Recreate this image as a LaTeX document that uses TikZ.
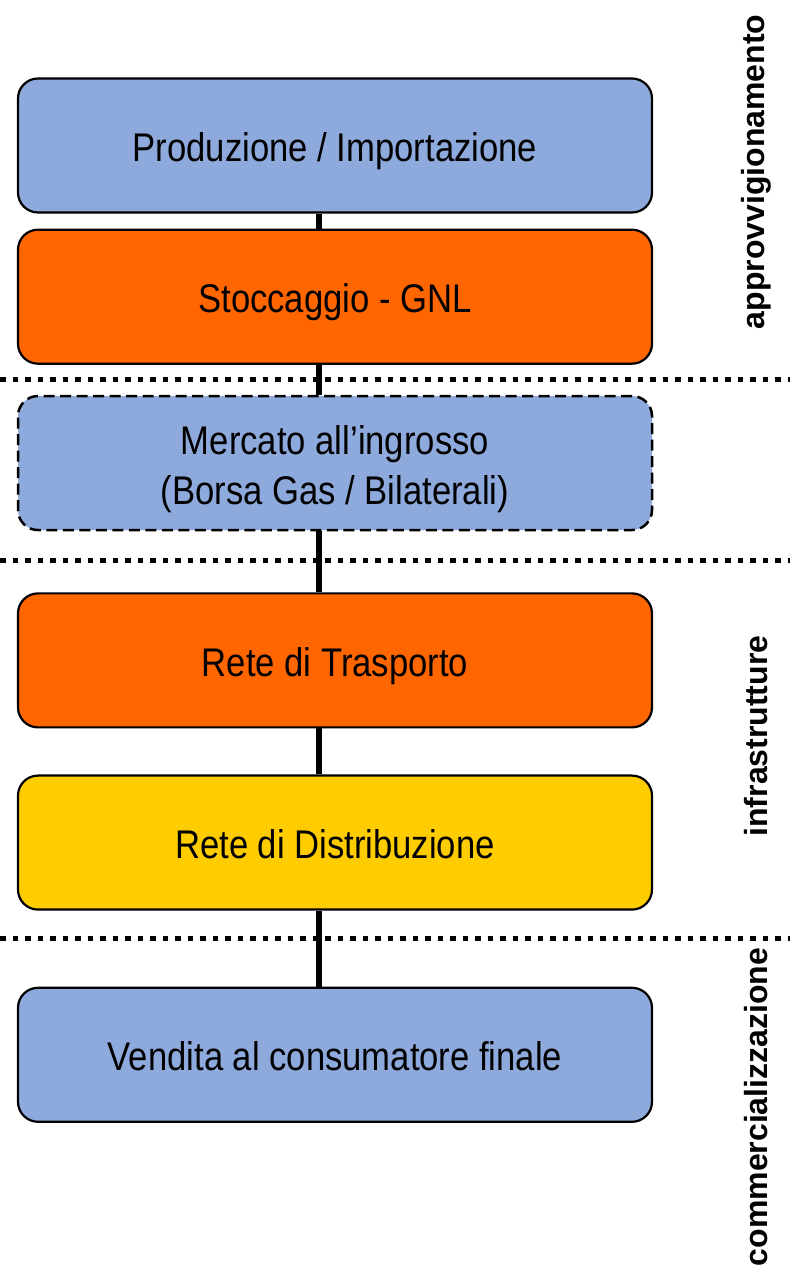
\documentclass[tikz,border=0pt]{standalone}
\usepackage{fontspec}
\setmainfont{Liberation Sans}
\usetikzlibrary{positioning}
\definecolor{gasblue}{HTML}{8EA9DB}
\definecolor{gasorange}{HTML}{FF6600}
\definecolor{gasyellow}{HTML}{FFCC00}
\newcommand{\stagetext}[1]{\raisebox{0pt}[\dimexpr\height+12pt\relax]{\scalebox{0.866}[1]{\begin{tabular}{@{}c@{}}#1\end{tabular}}}}
\begin{document}
\begin{tikzpicture}[x=1pt,y=1pt,
stage/.style={
% The shape:
rectangle,
rounded corners=20pt,
draw=black,
line width=2.2pt,
minimum width=634pt,
minimum height=134pt,
inner sep=0pt,
font=\fontsize{40}{50}\selectfont
},
market/.style={stage, line width=2.5pt, dash pattern=on 11pt off 5.5pt},
phase/.style={rotate=90, font=\bfseries\fontsize{32}{38}\selectfont},
border/.style={line width=5pt, dash pattern=on 5.5pt off 7pt},
link/.style={line width=6pt}
]
\useasboundingbox (0,0) rectangle (790,1269);
% Stages:
\node (prod) [stage, fill=gasblue] at (335,1123.5) {\stagetext{Produzione / Importazione}};
\node (stocc) [stage, fill=gasorange, below=15pt of prod] {\stagetext{Stoccaggio - GNL}};
\node (merc) [market, fill=gasblue, below=30pt of stocc] {\stagetext{Mercato all’ingrosso\\(Borsa Gas / Bilaterali)}};
\node (trasp) [stage, fill=gasorange, below=61pt of merc] {\stagetext{Rete di Trasporto}};
\node (distr) [stage, fill=gasyellow, below=46pt of trasp] {\stagetext{Rete di Distribuzione}};
\node (vend) [stage, fill=gasblue, below=76pt of distr] {\stagetext{Vendita al consumatore finale}};
% Phases:
\node (appr) [phase] at (756,1097) {approvvigionamento};
\node (infra) [phase] at (756,533) {infrastrutture};
\node (comm) [phase] at (756,162) {commercializzazione};
\draw [border] (0,889) -- (790,889);
\draw [border] (0,708) -- (790,708);
\draw [border] (0,330) -- (790,330);
\coordinate (trunk) at (319,0);
\foreach \a/\b in {prod/stocc, stocc/merc, merc/trasp, trasp/distr, distr/vend}
  \draw [link] (\a.south -| trunk) -- (\b.north -| trunk);
\end{tikzpicture}
\end{document}
